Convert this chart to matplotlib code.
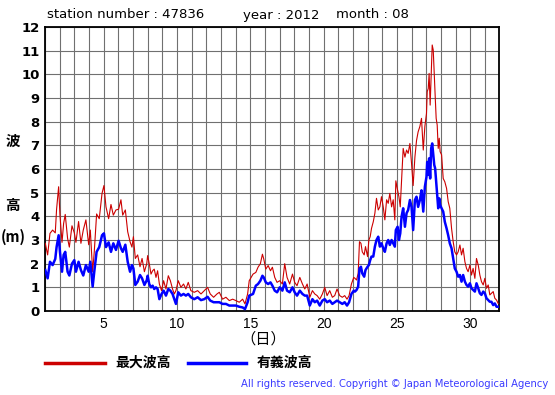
import numpy as np
import matplotlib
matplotlib.use("Agg")
import matplotlib.pyplot as plt

# time in days (1 = Aug 1 00:00), values in metres
days = [1.02, 1.18, 1.34, 1.52, 1.70, 1.79, 1.93, 2.02, 2.16, 2.27, 2.38, 2.54, 2.66, 2.84,
        3.00, 3.11, 3.29, 3.45, 3.61, 3.79, 3.98, 4.09, 4.25, 4.36, 4.52, 4.70, 4.89, 5.02,
        5.16, 5.34, 5.50, 5.66, 5.84, 6.02, 6.18, 6.30, 6.48, 6.64, 6.80, 6.93, 7.03, 7.16,
        7.32, 7.48, 7.62, 7.78, 7.94,
        8.00, 8.11, 8.23, 8.34, 8.45, 8.57, 8.68, 8.80, 8.95, 9.09, 9.25, 9.41, 9.55, 9.70,
        9.82, 9.93, 10.09, 10.27, 10.45, 10.61, 10.77, 10.95, 11.18, 11.41, 11.64, 11.86,
        12.09, 12.27, 12.50, 12.73, 12.89, 13.11, 13.34, 13.57, 13.80, 14.02, 14.25, 14.48,
        14.64, 14.82, 14.93,
        15.19, 15.38, 15.53, 15.69, 15.83, 15.92, 16.06, 16.22, 16.38, 16.51, 16.67, 16.83,
        17.01, 17.19, 17.35, 17.51, 17.69, 17.88, 18.03, 18.19, 18.38, 18.56, 18.72, 18.88,
        19.06, 19.24, 19.40, 19.56, 19.74, 19.92, 20.08, 20.24, 20.42, 20.60, 20.76, 20.92,
        21.10, 21.28, 21.44, 21.60, 21.74, 21.90, 22.06,
        22.14, 22.25, 22.36, 22.45, 22.55, 22.64, 22.77, 22.86, 23.00, 23.09, 23.18, 23.27,
        23.39, 23.50, 23.61, 23.73, 23.84, 23.95, 24.07, 24.18, 24.30, 24.41, 24.52, 24.64,
        24.75, 24.86, 24.93, 25.05, 25.14, 25.23, 25.32, 25.43, 25.55, 25.66, 25.77, 25.89,
        26.00, 26.11, 26.23, 26.34, 26.45, 26.57, 26.68, 26.80, 26.91, 27.02,
        27.07, 27.14, 27.20, 27.27, 27.34, 27.41, 27.48, 27.55, 27.61, 27.68, 27.75, 27.82,
        27.89, 27.95, 28.05, 28.16, 28.27, 28.39, 28.50, 28.61, 28.73, 28.84, 28.95, 29.07,
        29.18, 29.30, 29.41, 29.52, 29.64, 29.75, 29.86, 29.98, 30.09, 30.20, 30.32, 30.43,
        30.55, 30.66, 30.77, 30.89, 31.00, 31.11, 31.23, 31.34, 31.45, 31.57, 31.68, 31.80,
        31.91]

max_wave = [2.86, 2.37, 3.28, 3.42, 3.30, 4.30, 5.25, 4.05, 2.90, 3.70, 4.08, 3.07, 2.70, 3.60,
            3.30, 2.90, 3.78, 2.86, 3.42, 3.85, 2.80, 3.42, 1.66, 2.50, 4.10, 3.90, 4.97, 5.30,
            4.40, 3.90, 4.50, 4.05, 4.27, 4.30, 4.70, 4.05, 4.27, 3.35, 2.93, 2.70, 3.14, 2.22,
            2.37, 1.87, 2.22, 1.66, 2.00,
            2.34, 2.00, 1.56, 1.70, 1.77, 1.42, 1.70, 1.14, 0.86, 1.28, 0.93, 1.49, 1.28, 0.93,
            0.72, 0.86, 1.28, 1.00, 1.14, 0.93, 1.21, 0.86, 0.79, 0.86, 0.72, 0.86,
            1.00, 0.72, 0.58, 0.72, 0.79, 0.50, 0.58, 0.44, 0.50, 0.44, 0.37, 0.50,
            0.30, 0.72, 1.28,
            1.56, 1.63, 1.85, 2.00, 2.40, 2.20, 1.77, 1.92, 1.70, 1.85, 1.42, 1.21,
            1.28, 1.14, 2.00, 1.42, 1.14, 1.56, 1.21, 1.07, 1.42, 1.14, 0.93, 1.14,
            0.58, 0.86, 0.72, 0.65, 0.50, 0.72, 1.00, 0.65, 0.86, 0.58, 0.65, 0.93,
            0.65, 0.58, 0.65, 0.50, 0.65, 1.14, 1.42,
            1.38, 1.31, 1.59, 2.93, 2.86, 2.50, 2.37, 2.72, 2.30, 3.00, 3.14, 3.49,
            3.77, 4.13, 4.76, 4.27, 4.40, 4.83, 4.40, 3.85, 4.70, 4.55, 4.97, 4.40,
            4.70, 3.85, 5.50, 5.10, 4.83, 4.40, 5.50, 6.87, 6.50, 6.80, 6.66, 7.08,
            6.24, 5.30, 6.50, 7.20, 7.57, 7.80, 8.14, 6.80, 7.80, 8.35,
            9.27, 9.40, 10.04, 8.70, 9.97, 11.24, 11.03, 9.97, 9.13, 8.14, 7.86, 6.87,
            7.30, 6.73, 6.60, 5.60, 5.46, 5.18, 4.62, 4.34, 3.49, 2.93, 2.50, 2.37,
            2.50, 2.79, 2.37, 2.65, 2.08, 1.80, 1.66, 1.94, 1.52, 1.80, 1.38, 2.22,
            1.94, 1.52, 1.24, 1.10, 1.38, 0.96, 1.10, 0.68, 0.75, 0.82, 0.54, 0.46,
            0.32]

sig_wave = [1.73, 1.38, 2.08, 1.94, 2.20, 2.70, 3.20, 2.50, 1.66, 2.37, 2.50, 1.66, 1.50, 2.00,
            2.15, 1.66, 2.08, 1.73, 1.50, 1.94, 1.66, 2.08, 1.03, 1.66, 2.50, 2.70, 3.20, 3.28,
            2.70, 2.90, 2.50, 2.86, 2.58, 2.97, 2.65, 2.50, 2.80, 2.08, 1.66, 1.94, 1.80, 1.10,
            1.24, 1.52, 1.38, 1.10, 1.30,
            1.49, 1.14, 1.00, 1.07, 0.93, 1.00, 0.93, 0.50, 0.72, 0.86, 0.65, 0.93, 0.86, 0.72,
            0.50, 0.30, 0.79, 0.65, 0.72, 0.65, 0.72, 0.58, 0.50, 0.58, 0.46, 0.50,
            0.60, 0.44, 0.37, 0.37, 0.37, 0.30, 0.30, 0.23, 0.23, 0.23, 0.18, 0.15,
            0.08, 0.37, 0.65,
            0.72, 1.07, 1.14, 1.28, 1.49, 1.42, 1.21, 1.14, 1.21, 1.07, 0.86, 0.79,
            1.00, 0.86, 1.21, 0.86, 0.79, 1.00, 0.79, 0.65, 0.86, 0.72, 0.65, 0.65,
            0.23, 0.50, 0.37, 0.44, 0.23, 0.44, 0.50, 0.37, 0.44, 0.30, 0.37, 0.44,
            0.37, 0.30, 0.37, 0.23, 0.37, 0.72, 0.86,
            0.82, 0.89, 1.03, 1.80, 1.87, 1.59, 1.45, 1.73, 1.87, 1.94, 2.15, 2.30,
            2.30, 2.72, 3.00, 3.14, 2.72, 2.86, 2.65, 2.50, 2.86, 3.00, 2.79, 3.00,
            2.86, 2.72, 3.42, 3.56, 3.00, 3.28, 3.98, 4.34, 3.56, 4.13, 4.27, 4.69,
            4.40, 3.42, 4.69, 4.83, 4.40, 4.69, 5.10, 4.20, 5.25, 5.67,
            6.30, 5.75, 6.45, 5.60, 6.87, 7.08, 6.60, 6.17, 6.03, 5.46, 4.90, 4.34,
            4.76, 4.48, 4.34, 4.20, 3.77, 3.49, 3.20, 2.86, 2.65, 2.22, 1.80, 1.66,
            1.45, 1.52, 1.24, 1.52, 1.24, 1.10, 1.03, 1.17, 0.96, 0.89, 0.82, 1.17,
            0.96, 0.75, 0.68, 0.82, 0.75, 0.54, 0.46, 0.39, 0.39, 0.25, 0.32, 0.18,
            0.18]

x_labels = {5: "5", 10: "10", 15: "15", 20: "20", 25: "25", 30: "30"}

W, H = 555, 395
fig = plt.figure(figsize=(W / 100, H / 100), dpi=100)
ax = fig.add_axes([45 / W, 1 - 311 / H, 454.5 / W, 284 / H])

ax.plot(days, max_wave, color="#cc0000", lw=0.8, zorder=3)
ax.plot(days, sig_wave, color="#0000ff", lw=1.8, zorder=4)

ax.set_xlim(1, 32)
ax.set_ylim(0, 12)
ax.set_xticks(np.arange(1, 33))
ax.set_xticklabels([x_labels.get(d, "") for d in range(1, 33)],
                   fontfamily="Liberation Sans", fontsize=10)
ax.set_yticks(np.arange(0, 13))
ax.set_yticklabels([str(v) for v in range(13)], fontweight="bold", fontsize=9.5)
ax.tick_params(length=0)
ax.tick_params(axis="x", pad=4)
ax.tick_params(axis="y", pad=4)
ax.grid(True, color="#707070", lw=0.8)
ax.set_axisbelow(True)
for s in ax.spines.values():
    s.set_linewidth(1.3)
    s.set_color("black")

def px(x, y):
    return x / W, 1 - y / H

cjk = ["Noto Sans CJK JP", "DejaVu Sans"]

# header
fig.text(*px(47, 15), "station number : 47836", fontsize=9.5, va="center")
fig.text(*px(243, 15), "year : 2012", fontsize=9.5, va="center")
fig.text(*px(336, 15), "month : 08", fontsize=9.5, va="center")

# y label
fig.text(*px(12.5, 141), "波", family=cjk, fontsize=10.5, fontweight="bold", ha="center", va="center")
fig.text(*px(12.5, 205), "高", family=cjk, fontsize=10.5, fontweight="bold", ha="center", va="center")
fig.text(*px(13, 237), "(m)", family=cjk, fontsize=10.5, fontweight="bold", ha="center", va="center")

# x label
fig.text(*px(263, 339), "（日）", family=cjk, fontsize=11, ha="center", va="center")

# legend
fig.add_artist(plt.Line2D([45 / W, 105 / W], [1 - 363 / H] * 2, color="#cc0000", lw=2.5))
fig.text(*px(115, 363), "最大波高", family=cjk, fontsize=10, fontweight="bold", va="center")
fig.add_artist(plt.Line2D([188 / W, 246 / W], [1 - 363 / H] * 2, color="#0000ff", lw=2.5))
fig.text(*px(257, 363), "有義波高", family=cjk, fontsize=10, fontweight="bold", va="center")

fig.text(*px(548, 384), "All rights reserved. Copyright © Japan Meteorological Agency",
         fontsize=7.2, color="#3a3aff", ha="right", va="center")

fig.savefig("out.png", dpi=100)
